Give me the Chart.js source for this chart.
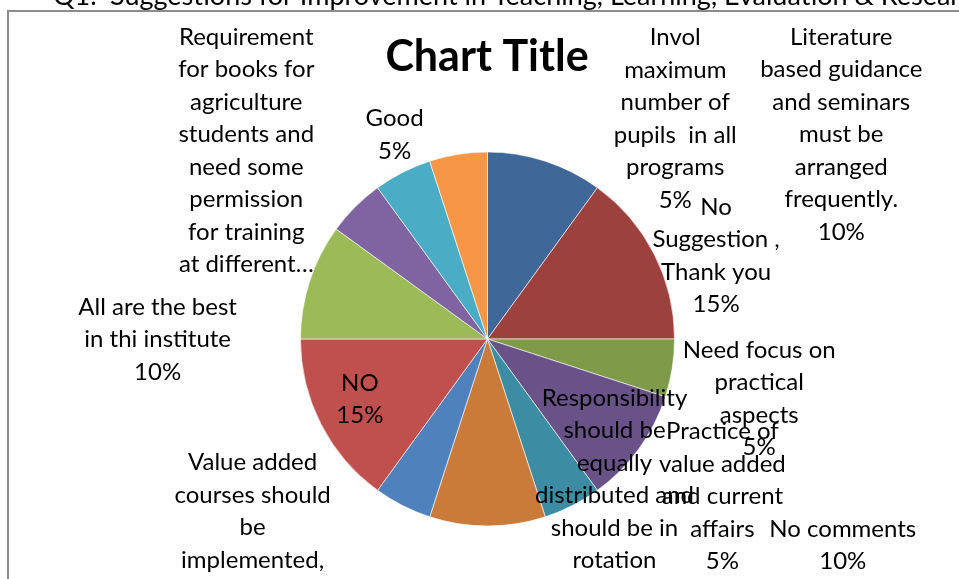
<!DOCTYPE html>
<html>
<head>
<meta charset="utf-8">
<script src="https://cdn.jsdelivr.net/npm/chart.js@4.4.1/dist/chart.umd.min.js"></script>
<style>
  html, body { margin: 0; padding: 0; background: #fff; overflow: hidden; }
  #wrap { position: relative; width: 959px; height: 579px; }
</style>
</head>
<body>
<div id="wrap"><canvas id="c" width="959" height="579"></canvas></div>
<script>
// ---- data ----
const categories = [
  ["Literature", "based guidance", "and seminars", "must be", "arranged", "frequently."],
  ["No", "Suggestion ,", "Thank you"],
  ["Need focus on", "practical", "aspects"],
  ["No comments"],
  ["Practice of", "value added", "and current", "affairs"],
  ["Responsibility", "should be", "equally", "distributed and", "should be in", "rotation"],
  ["Value added", "courses should", "be", "implemented,"],
  ["NO"],
  ["All are the best", "in thi institute"],
  ["Requirement", "for books for", "agriculture", "students and", "need some", "permission", "for training", "at different\u2026"],
  ["Good"],
  ["Invol", "maximum", "number of", "pupils  in all", "programs"]
];
const values = [10, 15, 5, 10, 5, 10, 5, 15, 10, 5, 5, 5];
const chartTitle = "Chart Title";
const headingNumber = "Q1.";
const headingText = "Suggestions for Improvement in Teaching, Learning, Evaluation & Research";

// ---- styles ----
const colors = ["#3F6797", "#9D413F", "#7F9A48", "#685287", "#3C8DA3", "#CB7B39",
                "#4F81BD", "#C0504D", "#9BBB59", "#8064A2", "#4BACC6", "#F79646"];
// offsets of first label line centre relative to arc-edge point at mid angle
const labelOffsets = [
  [296, -124], [62, -47], [87, -18], [204, 80], [150, -74], [127, -128],
  [-150, -43], [39, -41], [-152, 26], [-109, -170], [-8, -54], [217, -117]
];
const FONT = "Lato, 'Open Sans', sans-serif";
const LABEL_SIZE = 24;
const LINE_H = 32.5;

const labelPlugin = {
  id: 'excelLabels',
  afterDatasetsDraw(chart) {
    const ctx = chart.ctx;
    const meta = chart.getDatasetMeta(0);
    const total = values.reduce((a, b) => a + b, 0);
    ctx.save();
    ctx.fillStyle = '#000';
    ctx.textAlign = 'center';
    ctx.textBaseline = 'middle';
    ctx.font = LABEL_SIZE + 'px ' + FONT;
    meta.data.forEach((arc, i) => {
      const p = arc.getProps(['x', 'y', 'startAngle', 'endAngle', 'outerRadius'], true);
      const mid = (p.startAngle + p.endAngle) / 2;
      const ax = p.x + p.outerRadius * Math.cos(mid);
      const ay = p.y + p.outerRadius * Math.sin(mid);
      const lx = ax + labelOffsets[i][0];
      const ly = ay + labelOffsets[i][1];
      const lines = categories[i].slice();
      const last = lines[lines.length - 1];
      if (!last.endsWith('\u2026')) lines.push(Math.round(values[i] / total * 100) + '%');
      lines.forEach((t, k) => ctx.fillText(t, lx, ly + k * LINE_H));
    });
    ctx.restore();
  },
  beforeDraw(chart) {
    const ctx = chart.ctx;
    ctx.save();
    ctx.fillStyle = '#fff';
    ctx.fillRect(0, 0, chart.width, chart.height);
    // outer chart border
    ctx.strokeStyle = '#8c8c8c';
    ctx.lineWidth = 2;
    ctx.strokeRect(8, 11, 2000, 2000);
    // clipped heading above
    ctx.fillStyle = '#000';
    ctx.textAlign = 'left';
    ctx.textBaseline = 'alphabetic';
    ctx.font = '27px ' + FONT;
    ctx.fillText(headingNumber, 53, 5);
    ctx.fillText(headingText, 110, 5);
    // title
    ctx.textAlign = 'center';
    ctx.font = 'bold 43px ' + FONT;
    ctx.fillText(chartTitle, 487, 71);
    ctx.restore();
  }
};

new Chart(document.getElementById('c'), {
  type: 'pie',
  data: {
    labels: categories,
    datasets: [{
      data: values,
      backgroundColor: colors,
      borderColor: 'rgba(255,255,255,0.6)',
      borderWidth: 1,
      hoverOffset: 0
    }]
  },
  options: {
    responsive: false,
    animation: false,
    events: [],
    layout: { padding: { left: 300, right: 284, top: 151, bottom: 52 } },
    plugins: { legend: { display: false }, tooltip: { enabled: false }, title: { display: false } }
  },
  plugins: [labelPlugin]
});
</script>
</body>
</html>
